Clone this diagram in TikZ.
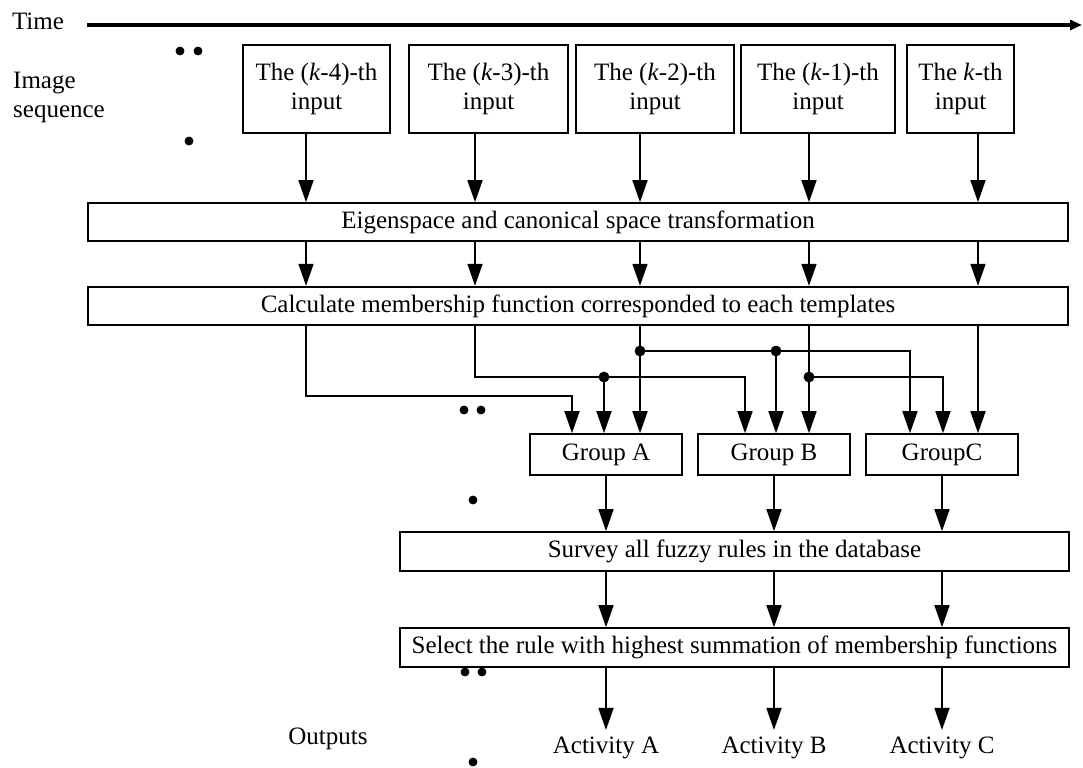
\documentclass[tikz,border=0pt]{standalone}
\usepackage{fontspec}
\setmainfont{Liberation Serif}
\usetikzlibrary{arrows.meta}

\begin{document}
\begin{tikzpicture}[x=0.5pt,y=-0.5pt,
        box/.style={draw=black, line width=0.8pt, inner sep=0pt, align=center, font=\fontsize{12.5}{14.5}\selectfont},
        lbl/.style={font=\fontsize{12.5}{14.5}\selectfont},
        flow/.style={black, line width=0.8pt, -{Triangle[length=11pt,width=7.5pt]}}]
        \useasboundingbox (0,0) rectangle (1083,767);
        \node[lbl] (time) at (38,21) {Time};
        \node[lbl, align=left] (imgseq) at (59,97) {Image\\sequence};
        \node[lbl] (outputs) at (328,739) {Outputs};
        \coordinate (tstart) at (87,25);
        \coordinate (tend) at (1082,25);
        \draw[black, line width=1.6pt, -{Triangle[length=6pt,width=5pt]}] (tstart) -- (tend);
        \node[box, minimum width=73.5pt, minimum height=44pt] (in1) at (316.5,89) {The (\textit{k}-4)-th\\input};
        \node[box, minimum width=79.5pt, minimum height=44pt] (in2) at (488.5,89) {The (\textit{k}-3)-th\\input};
        \node[box, minimum width=79pt, minimum height=44pt] (in3) at (655,89) {The (\textit{k}-2)-th\\input};
        \node[box, minimum width=77pt, minimum height=44pt] (in4) at (818,89) {The (\textit{k}-1)-th\\input};
        \node[box, minimum width=53.5pt, minimum height=44pt] (in5) at (960.5,89) {The \textit{k}-th\\input};
        \node[box, minimum width=490pt, minimum height=19pt] (eig) at (578,222) {Eigenspace and canonical space transformation};
        \node[box, line width=1.2pt, minimum width=490pt, minimum height=19pt] (calc) at (578,306) {Calculate membership function corresponded to each templates};
        \node[box, minimum width=76pt, minimum height=20.5pt] (gA) at (606,454.5) {Group A};
        \node[box, minimum width=76pt, minimum height=20.5pt] (gB) at (774,454.5) {Group B};
        \node[box, minimum width=76pt, minimum height=20.5pt] (gC) at (942,454.5) {GroupC};
        \node[box, minimum width=334.5pt, minimum height=19.5pt] (survey) at (734.5,551.5) {Survey all fuzzy rules in the database};
        \node[box, minimum width=334.5pt, minimum height=19.5pt] (select) at (734.5,647.5) {Select the rule with highest summation of membership functions};
        \node[lbl] (actA) at (606,748) {Activity A};
        \node[lbl] (actB) at (774,748) {Activity B};
        \node[lbl] (actC) at (942,748) {Activity C};
        \coordinate (c1) at (306,0);
        \coordinate (c2) at (475,0);
        \coordinate (c3) at (640,0);
        \coordinate (c4) at (809,0);
        \coordinate (c5) at (978,0);
        \coordinate (a1) at (572,0);
        \coordinate (a2) at (604,0);
        \coordinate (b1) at (745,0);
        \coordinate (b2) at (776,0);
        \coordinate (g1) at (910,0);
        \coordinate (g2) at (943,0);
        \coordinate (r1) at (0,351);
        \coordinate (r2) at (0,377);
        \coordinate (r3) at (0,396);
        \draw[flow] (in1.south -| c1) -- (eig.north -| c1);
        \draw[flow] (in2.south -| c2) -- (eig.north -| c2);
        \draw[flow] (in3.south -| c3) -- (eig.north -| c3);
        \draw[flow] (in4.south -| c4) -- (eig.north -| c4);
        \draw[flow] (in5.south -| c5) -- (eig.north -| c5);
        \draw[flow] (eig.south -| c1) -- (calc.north -| c1);
        \draw[flow] (eig.south -| c2) -- (calc.north -| c2);
        \draw[flow] (eig.south -| c3) -- (calc.north -| c3);
        \draw[flow] (eig.south -| c4) -- (calc.north -| c4);
        \draw[flow] (eig.south -| c5) -- (calc.north -| c5);
        \draw[flow] (calc.south -| c1) |- (r3 -| a1) -- (gA.north -| a1);
        \draw[flow] (calc.south -| c2) |- (r2 -| b1) -- (gB.north -| b1);
        \draw[flow] (calc.south -| c3) -- (gA.north -| c3);
        \draw[flow] (calc.south -| c4) -- (gB.north -| c4);
        \draw[flow] (calc.south -| c5) -- (gC.north -| c5);
        \draw[flow] (r1 -| c3) -- (r1 -| g1) -- (gC.north -| g1);
        \draw[flow] (r2 -| c4) -- (r2 -| g2) -- (gC.north -| g2);
        \draw[flow] (r2 -| a2) -- (gA.north -| a2);
        \draw[flow] (r1 -| b2) -- (gB.north -| b2);
        \filldraw[black] (r1 -| c3) circle (5);
        \filldraw[black] (r1 -| b2) circle (5);
        \filldraw[black] (r2 -| a2) circle (5);
        \filldraw[black] (r2 -| c4) circle (5);
        \draw[flow] (gA.south) -- (survey.north -| gA.south);
        \draw[flow] (gB.south) -- (survey.north -| gB.south);
        \draw[flow] (gC.south) -- (survey.north -| gC.south);
        \draw[flow] (survey.south -| gA.south) -- (select.north -| gA.south);
        \draw[flow] (survey.south -| gB.south) -- (select.north -| gB.south);
        \draw[flow] (survey.south -| gC.south) -- (select.north -| gC.south);
        \draw[flow] (select.south -| actA.north) -- (actA.north);
        \draw[flow] (select.south -| actB.north) -- (actB.north);
        \draw[flow] (select.south -| actC.north) -- (actC.north);
        \filldraw[black] (180,51) circle (4);
        \filldraw[black] (198,51) circle (4);
        \filldraw[black] (189,141) circle (4);
        \filldraw[black] (464,410) circle (4);
        \filldraw[black] (481,410) circle (4);
        \filldraw[black] (473,500) circle (4);
        \filldraw[black] (465,672) circle (4);
        \filldraw[black] (482,672) circle (4);
        \filldraw[black] (473,762) circle (4);
\end{tikzpicture}
\end{document}
